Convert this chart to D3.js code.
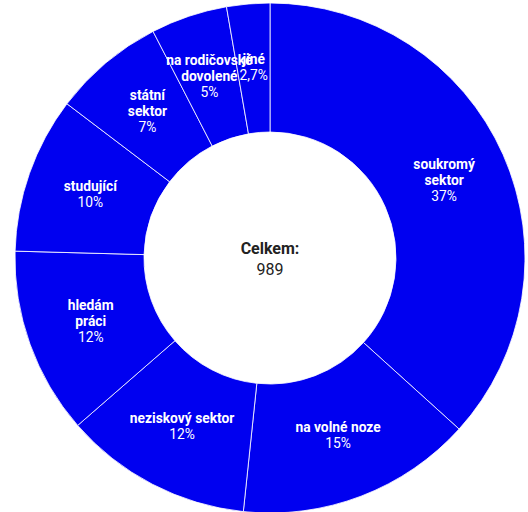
<!DOCTYPE html>
<html>
<head>
<meta charset="utf-8">
<script src="https://cdn.jsdelivr.net/npm/d3@7"></script>
<style>
  body { margin: 0; background: #fff; }
  svg { display: block; font-family: Roboto, sans-serif; }
</style>
</head>
<body>
<div id="chart"></div>
<script>
// chart size
const width = 528;
const height = 512;
const cx = 270, cy = 258;
const outerR = 255, innerR = 126;

// data (counts, total 989)
const categories = ["soukromý sektor", "na volné noze", "neziskový sektor", "hledám práci",
                    "studující", "státní sektor", "na rodičovské dovolené", "jiné"];
const labelLines = [["soukromý", "sektor"], ["na volné noze"], ["neziskový sektor"], ["hledám", "práci"],
                    ["studující"], ["státní", "sektor"], ["na rodičovské", "dovolené"], ["jiné"]];
const counts = [363, 148, 118, 117, 98, 70, 48, 27];
const total = d3.sum(counts);

const svg = d3.select("#chart")
  .append("svg")
  .attr("width", width)
  .attr("height", height);

const g = svg.append("g")
  .attr("transform", `translate(${cx},${cy})`);

const pie = d3.pie().sort(null).value(d => d)(counts);
const arc = d3.arc().innerRadius(innerR).outerRadius(outerR);

// slices
g.selectAll("path.slice")
  .data(pie)
  .join("path")
    .attr("class", "slice")
    .attr("d", arc)
    .attr("fill", "#0000f0")
    .attr("stroke", "#fff")
    .attr("stroke-width", 0.8);

// percent text, czech decimal comma for small shares
const fmtPct = v => {
  const p = v / total * 100;
  return p < 3 ? d3.format(".1f")(p).replace(".", ",") + "%" : Math.round(p) + "%";
};

const lineH = 16;
const labels = g.selectAll("text.lbl")
  .data(pie)
  .join("text")
    .attr("class", "lbl")
    .attr("text-anchor", "middle")
    .attr("fill", "#fff")
    .attr("font-size", 13.8)
    .attr("transform", d => `translate(${arc.centroid(d)})`);

labels.each(function(d, i) {
  const lines = labelLines[i];
  const n = lines.length + 1;
  const y0 = -(n - 1) / 2 * lineH + 4;
  const t = d3.select(this);
  lines.forEach((s, k) => {
    t.append("tspan").attr("x", 0).attr("y", y0 + k * lineH)
      .attr("font-weight", "bold").text(s);
  });
  t.append("tspan").attr("x", 0).attr("y", y0 + lines.length * lineH)
    .text(fmtPct(d.value));
});

// center total
g.append("text")
  .attr("text-anchor", "middle")
  .attr("y", -4)
  .attr("font-size", 16)
  .attr("font-weight", "bold")
  .attr("fill", "#222")
  .text("Celkem:");
g.append("text")
  .attr("text-anchor", "middle")
  .attr("y", 17)
  .attr("font-size", 16)
  .attr("fill", "#222")
  .text(total);
</script>
</body>
</html>
